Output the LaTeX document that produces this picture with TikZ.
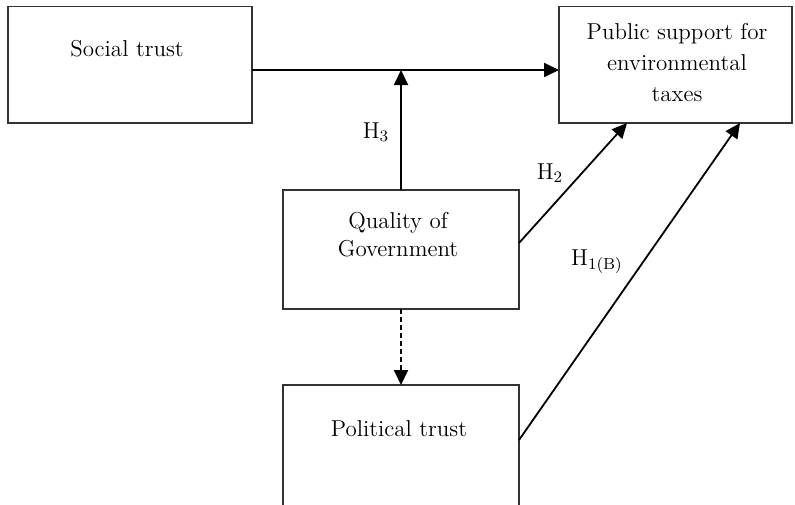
\documentclass[tikz,border=0pt]{standalone}
\usetikzlibrary{arrows.meta}
\begin{document}
\begin{tikzpicture}[x=0.5pt,y=-0.5pt,
  box/.style = {rectangle,draw=black!80,line width=0.7pt,outer sep=0mm,inner sep=0mm},
  txt/.style = {align=center,font=\fontsize{11.5}{15.5}\selectfont},
  hyp/.style = {font=\fontsize{11.5}{14}\selectfont},
  arrow/.style = {draw=black,line width=0.9pt,-{Triangle[length=7.5pt,width=7pt]}}]
\useasboundingbox (0,0) rectangle (795,504);
\node[box,minimum width=122pt,minimum height=58.25pt] (social)    at (130,64.75)  {};
\node[box,minimum width=116.5pt,minimum height=58.25pt] (public)  at (675.5,64.75) {};
\node[box,minimum width=118pt,minimum height=59.5pt] (qog)        at (401,249.5)  {};
\node[box,minimum width=118pt,minimum height=65pt] (political)    at (401,450)    {};
\node[txt] (socialtxt)    at (127,49)   {Social trust};
\node[txt] (publictxt)    at (677,63)   {Public support for\\environmental\\taxes};
\node[txt] (qogtxt)       at (398,235)  {Quality of\\[-1.5pt]Government};
\node[txt] (politicaltxt) at (399,429)  {Political trust};
\coordinate (junction) at (401,70);
\draw[arrow] (social.east |- junction) -- (public.west |- junction);
\draw[arrow] (qog.north) -- (junction);
\draw[arrow,dash pattern=on 2.5pt off 1.5pt] (qog.south) -- (political.north);
\draw[arrow] ([yshift=3.25pt]qog.east) -- ([xshift=34pt]public.south west);
\draw[arrow] ([yshift=5pt]political.east) -- ([xshift=90.5pt]public.south west);
\node[hyp] (h3) at (376,132) {H$_3$};
\node[hyp] (h2) at (550,173) {H$_2$};
\node[hyp] (h1) at (597,262) {H$_{1(\mathrm{B})}$};
\end{tikzpicture}
\end{document}
